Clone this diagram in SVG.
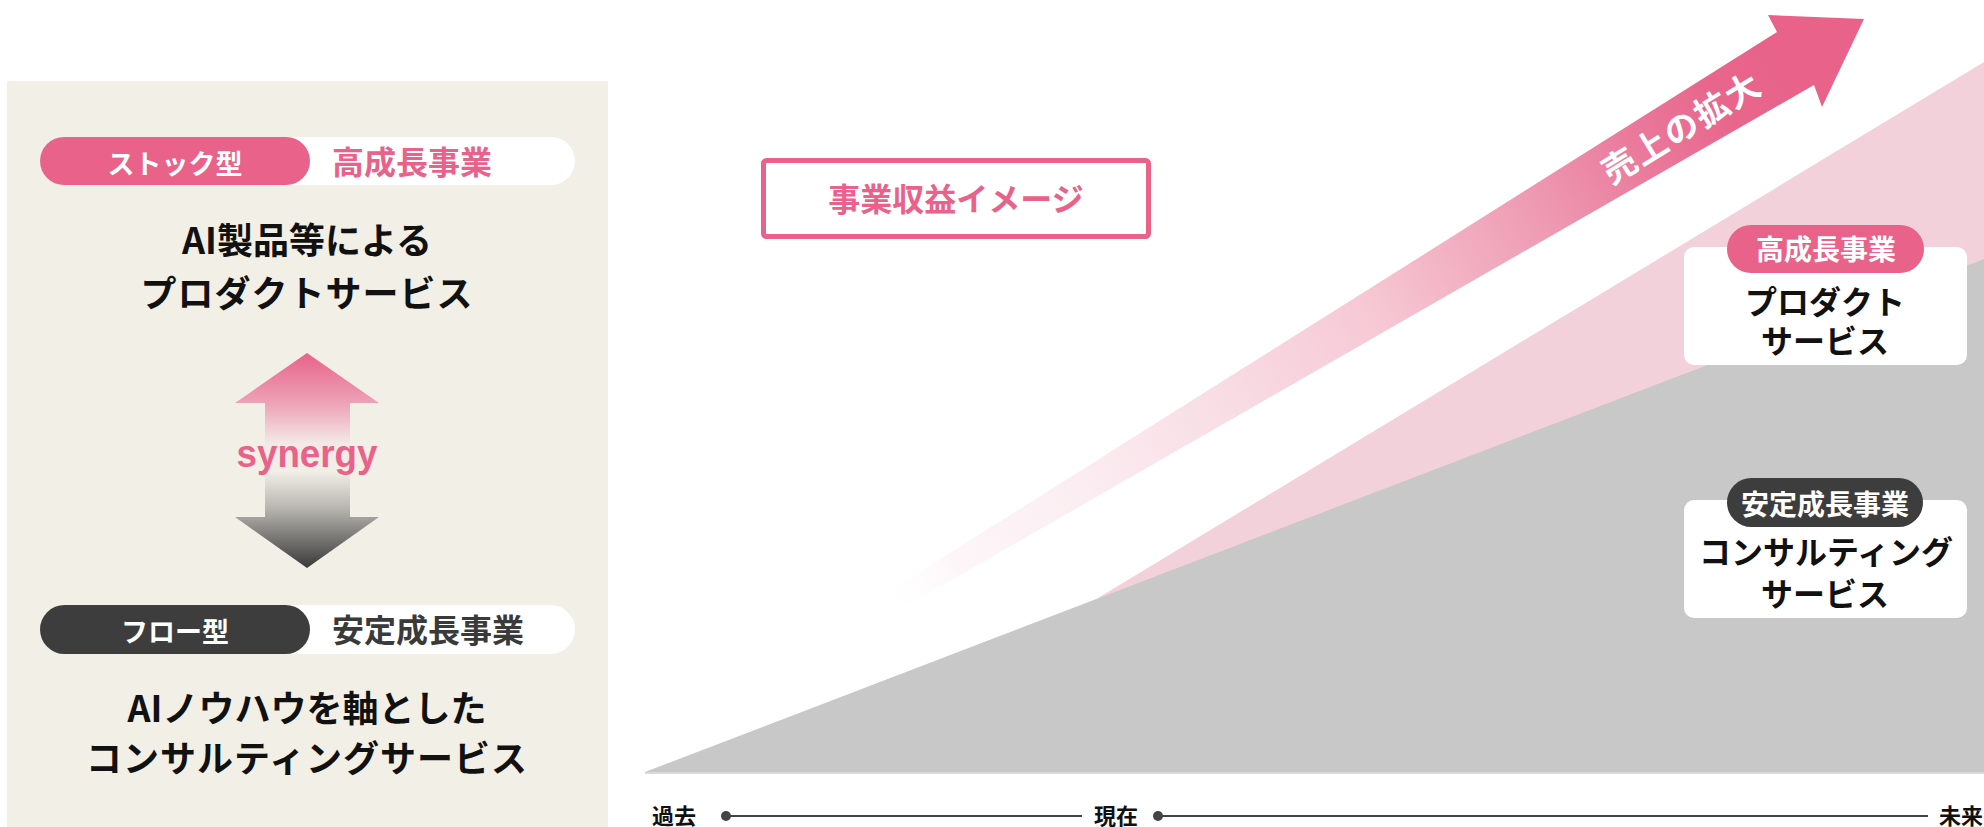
<svg xmlns="http://www.w3.org/2000/svg" width="1984" height="827" viewBox="0 0 1984 827">
  <defs>
    <style>
      .jp { font-family: "Noto Sans CJK JP", "Noto Sans", sans-serif; font-weight: 700; }
      .main { fill: #111111; font-size: 36px; text-anchor: middle; }
      .cardtxt { fill: #111111; font-size: 32px; text-anchor: middle; }
      .pilltxt { fill: #ffffff; font-size: 27px; text-anchor: middle; }
      .tag { font-size: 32px; }
      .time { fill: #111111; font-size: 22px; }
    </style>
    <linearGradient id="synGrad" gradientUnits="userSpaceOnUse" x1="0" y1="353" x2="0" y2="568">
      <stop offset="0" stop-color="#e8628a"/>
      <stop offset="0.24" stop-color="#eda4b8"/>
      <stop offset="0.42" stop-color="#f3e9e6"/>
      <stop offset="0.55" stop-color="#f2efe7"/>
      <stop offset="0.72" stop-color="#b8b6b1"/>
      <stop offset="1" stop-color="#393939"/>
    </linearGradient>
    <linearGradient id="bigGrad" gradientUnits="userSpaceOnUse" x1="880" y1="605" x2="1795" y2="61">
      <stop offset="0" stop-color="#ffffff" stop-opacity="0"/>
      <stop offset="0.08" stop-color="#fdf6f8"/>
      <stop offset="0.21" stop-color="#fbeef2"/>
      <stop offset="0.38" stop-color="#f8dce4"/>
      <stop offset="0.54" stop-color="#f6c8d4"/>
      <stop offset="0.72" stop-color="#ee9ab2"/>
      <stop offset="0.83" stop-color="#ea7a9c"/>
      <stop offset="0.92" stop-color="#e8668c"/>
      <stop offset="1" stop-color="#e8628a"/>
    </linearGradient>
  </defs>

  <rect x="0" y="0" width="1984" height="827" fill="#ffffff"/>

  <!-- Left panel -->
  <g id="left-panel">
    <rect x="7" y="81" width="601" height="746" fill="#f2efe6"/>
  </g>

  <g id="stock-tag">
    <rect x="40" y="137" width="535" height="48" rx="24" fill="#ffffff"/>
    <rect x="40" y="137" width="270" height="48" rx="24" fill="#e8628a"/>
    <text class="jp pilltxt" x="175" y="174">ストック型</text>
    <text class="jp tag" x="332" y="174" fill="#e8628a">高成長事業</text>
  </g>

  <g id="product-text">
    <text class="jp main" x="307" y="254">AI製品等による</text>
    <text class="jp main" x="307" y="307" letter-spacing="1">プロダクトサービス</text>
  </g>

  <g id="synergy">
    <polygon points="307,353 379,403 350,403 350,517 379,517 307,568 235,517 265,517 265,403 235,403" fill="url(#synGrad)"/>
    <text x="307" y="467" font-family="Liberation Sans, Arial, sans-serif" font-weight="700" font-size="39" fill="#e8628a" text-anchor="middle" textLength="141" lengthAdjust="spacingAndGlyphs">synergy</text>
  </g>

  <g id="flow-tag">
    <rect x="40" y="605" width="535" height="49" rx="24.5" fill="#ffffff"/>
    <rect x="40" y="605" width="270" height="49" rx="24.5" fill="#3d3d3d"/>
    <text class="jp pilltxt" x="175" y="642">フロー型</text>
    <text class="jp tag" x="332" y="642" fill="#3a3a3a">安定成長事業</text>
  </g>

  <g id="consulting-text">
    <text class="jp main" x="307" y="722">AIノウハウを軸とした</text>
    <text class="jp main" x="307" y="772" letter-spacing="1">コンサルティングサービス</text>
  </g>

  <!-- Chart -->
  <g id="chart-areas">
    <polygon points="1098,598 1984,62 1984,772 1098,772" fill="#f2d1db"/>
    <polygon points="645,772 1984,259 1984,772" fill="#c8c8c8"/>
    <line x1="645" y1="773" x2="1984" y2="773" stroke="#dadada" stroke-width="2"/>
  </g>

  <g id="sales-arrow">
    <polygon points="880,597 1777,32 1768,15 1864,19 1822,107 1814,85 880,621" fill="url(#bigGrad)"/>
    <text class="jp" transform="translate(1682,128) rotate(-31.5)" x="0" y="12" font-size="34" font-weight="500" fill="#ffffff" text-anchor="middle" letter-spacing="2">売上の拡大</text>
  </g>

  <g id="title">
    <rect x="763.5" y="160.5" width="385" height="76" rx="3" fill="#ffffff" stroke="#e8628a" stroke-width="5"/>
    <text class="jp" x="956" y="211" font-size="32" font-weight="500" fill="#e8628a" text-anchor="middle">事業収益イメージ</text>
  </g>

  <g id="card-high-growth">
    <rect x="1684" y="247" width="283" height="118" rx="10" fill="#ffffff"/>
    <rect x="1727" y="225" width="197" height="48" rx="24" fill="#e8628a"/>
    <text class="jp" x="1826" y="260" font-size="28" fill="#ffffff" text-anchor="middle" font-weight="500">高成長事業</text>
    <text class="jp cardtxt" x="1825" y="314">プロダクト</text>
    <text class="jp cardtxt" x="1825" y="353">サービス</text>
  </g>

  <g id="card-stable-growth">
    <rect x="1684" y="500" width="283" height="118" rx="10" fill="#ffffff"/>
    <rect x="1727" y="478" width="196" height="49" rx="24.5" fill="#3d3d3d"/>
    <text class="jp" x="1825" y="515" font-size="28" fill="#ffffff" text-anchor="middle" font-weight="500">安定成長事業</text>
    <text class="jp cardtxt" x="1826" y="564">コンサルティング</text>
    <text class="jp cardtxt" x="1825" y="606">サービス</text>
  </g>

  <!-- Timeline -->
  <g id="connectors">
    <line x1="726" y1="816" x2="1082" y2="816" stroke="#444444" stroke-width="2"/>
    <line x1="1158" y1="816" x2="1928" y2="816" stroke="#444444" stroke-width="2"/>
    <circle cx="726" cy="816" r="5" fill="#444444"/>
    <circle cx="1158" cy="816" r="5" fill="#444444"/>
  </g>

  <g id="label-past">
    <text class="jp time" x="652" y="824">過去</text>
  </g>
  <g id="label-now">
    <text class="jp time" x="1094" y="824">現在</text>
  </g>
  <g id="label-future">
    <text class="jp time" x="1939" y="824">未来</text>
  </g>
</svg>
